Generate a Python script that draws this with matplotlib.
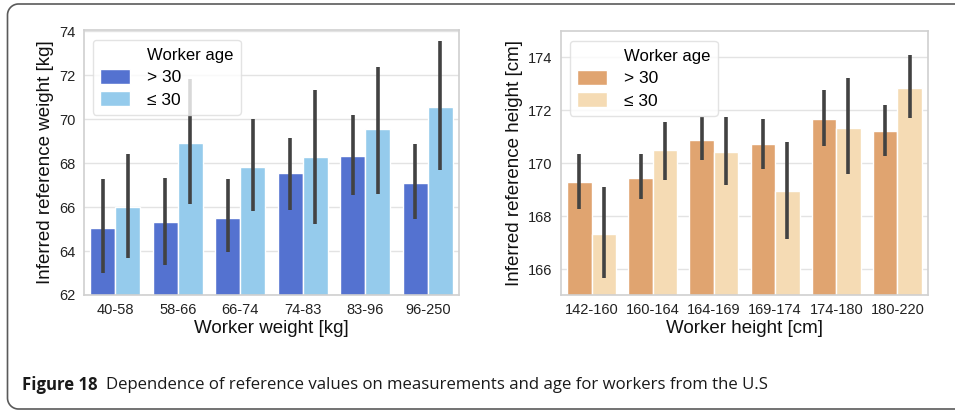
import matplotlib

matplotlib.use("Agg")
import matplotlib.pyplot as plt
import numpy as np
from matplotlib.lines import Line2D
from matplotlib.patches import Rectangle

# Left panel: reference weight by worker weight group
weight_groups = ["40-58", "58-66", "66-74", "74-83", "83-96", "96-250"]
weight_old = [65.05, 65.30, 65.52, 67.55, 68.30, 67.11]
weight_old_lo = [63.02, 63.36, 63.94, 65.86, 66.56, 65.45]
weight_old_hi = [67.26, 67.30, 67.26, 69.15, 70.18, 68.88]
weight_young = [66.00, 68.91, 67.83, 68.29, 69.55, 70.53]
weight_young_lo = [63.67, 66.12, 65.83, 65.23, 66.59, 67.70]
weight_young_hi = [68.41, 71.82, 70.02, 71.30, 72.38, 73.55]

# Right panel: reference height by worker height group
height_groups = ["142-160", "160-164", "164-169", "169-174", "174-180", "180-220"]
height_old = [169.28, 169.46, 170.88, 170.73, 171.67, 171.21]
height_old_lo = [168.29, 168.64, 170.11, 169.77, 170.65, 170.28]
height_old_hi = [170.36, 170.36, 171.77, 171.66, 172.78, 172.20]
height_young = [167.33, 170.50, 170.43, 168.96, 171.32, 172.84]
height_young_lo = [165.69, 169.38, 169.19, 167.16, 169.61, 171.71]
height_young_hi = [169.09, 171.57, 171.76, 170.82, 173.21, 174.09]

age_labels = ["> 30", "\u2264 30"]

plt.rcParams["font.family"] = ["Liberation Sans", "DejaVu Sans"]

W, H = 955, 412
fig = plt.figure(figsize=(W / 100, H / 100), dpi=100, facecolor="white")


def px_axes(x0, y0, x1, y1):
    return fig.add_axes([x0 / W, 1 - y1 / H, (x1 - x0) / W, (y1 - y0) / H])


def draw_panel(ax, groups, series, colors, ylim, yticks, xlabel, ylabel):
    x = np.arange(len(groups))
    width = 0.4
    for i, ((vals, lo, hi), color) in enumerate(zip(series, colors)):
        pos = x + (i - 0.5) * width
        ax.bar(pos, vals, width, color=color, edgecolor="white", linewidth=1.0,
               zorder=2, label=age_labels[i])
        ax.vlines(pos, lo, hi, color="#424242", linewidth=2.6, zorder=3)
    ax.set_xlim(-0.5, len(groups) - 0.5)
    ax.set_ylim(*ylim)
    ax.set_yticks(yticks)
    ax.set_xticks(x)
    ax.set_xticklabels(groups)
    ax.tick_params(axis="both", labelsize=10.5, length=0, pad=6, colors="#222222")
    ax.grid(axis="y", color="#e3e3e3", linewidth=1.0, zorder=0)
    ax.set_axisbelow(True)
    for sp in ax.spines.values():
        sp.set_color("#d0d0d0")
        sp.set_linewidth(1.2)
    ax.set_xlabel(xlabel, fontsize=13.5, labelpad=2, color="#111111")
    ax.set_ylabel(ylabel, fontsize=13.5, labelpad=4, color="#111111")

    # legend title sits in the label column, as a row with an empty handle
    handles, labels = ax.get_legend_handles_labels()
    blank = Rectangle((0, 0), 1, 1, fill=False, edgecolor="none", visible=False)
    leg = ax.legend([blank] + handles, ["Worker age"] + labels, loc="upper left",
                    bbox_to_anchor=(0.0, 0.995), fontsize=12.5, handlelength=1.75,
                    handleheight=0.9, handletextpad=1.0, borderpad=0.4,
                    labelspacing=0.35, frameon=True, fancybox=True, framealpha=0.8,
                    edgecolor="#dddddd")
    leg.get_texts()[0].set_fontsize(12)
    return leg


ax1 = px_axes(84, 30, 459, 295)
draw_panel(
    ax1, weight_groups,
    [(weight_old, weight_old_lo, weight_old_hi),
     (weight_young, weight_young_lo, weight_young_hi)],
    ["#5472d0", "#95cbec"], (62, 74.05), [62, 64, 66, 68, 70, 72, 74],
    "Worker weight [kg]", "Inferred reference weight [kg]",
)

ax2 = px_axes(561, 31, 928, 295)
draw_panel(
    ax2, height_groups,
    [(height_old, height_old_lo, height_old_hi),
     (height_young, height_young_lo, height_young_hi)],
    ["#e0a470", "#f5dbb4"], (165.03, 175.0), [166, 168, 170, 172, 174],
    "Worker height [cm]", "Inferred reference height [cm]",
)

# Caption frame: top, left and bottom edges with rounded left corners,
# built in pixel coordinates
r = 11.0
left, top, bottom = 7.5, 4.0, 409.0
a = np.linspace(0, np.pi / 2, 20)
top_arc_x = left + r - r * np.sin(a)
top_arc_y = top + r - r * np.cos(a)
bot_arc_x = left + r - r * np.cos(a)
bot_arc_y = bottom - r + r * np.sin(a)
px = np.concatenate([[W + 5], top_arc_x, bot_arc_x, [W + 5]])
py = np.concatenate([[top], top_arc_y, bot_arc_y, [bottom]])
fig.add_artist(Line2D(px / W, 1 - py / H, transform=fig.transFigure,
                      color="#5a5a5a", linewidth=1.2))

cap_y = 1 - 385 / H
t1 = fig.text(22 / W, cap_y, "Figure 18", fontsize=12.1, fontweight="bold",
              va="center", ha="left", color="#1a1a1a", family=["Open Sans", "DejaVu Sans"])
fig.canvas.draw()
bb = t1.get_window_extent()
fig.text((bb.x1 + 8) / W, cap_y,
         "Dependence of reference values on measurements and age for workers from the U.S",
         fontsize=12.1, va="center", ha="left", color="#1a1a1a",
         family=["Open Sans", "DejaVu Sans"])

fig.savefig("out.png", dpi=100, facecolor="white")
